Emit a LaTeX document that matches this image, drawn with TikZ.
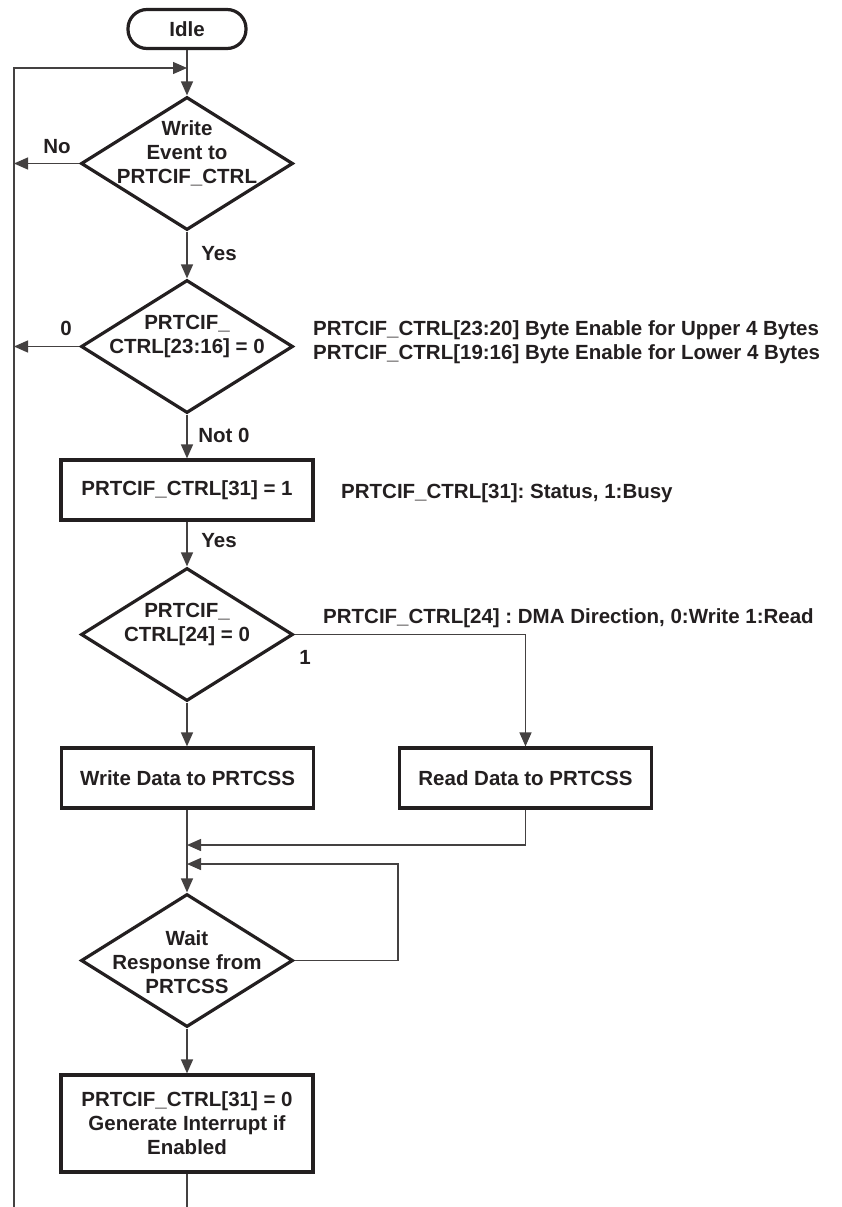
\documentclass[tikz,border=0pt]{standalone}
\usepackage{fontspec}
\setmainfont{Liberation Sans}
\usetikzlibrary{shapes.geometric,arrows.meta}
\definecolor{ink}{RGB}{35,31,32}
\frenchspacing
\begin{document}
\begin{tikzpicture}[x=1pt,y=1pt,yscale=-1,
    every node/.style={font=\fontsize{20.5}{24}\selectfont\bfseries,text=ink},
    term/.style={draw=ink,line width=3.2pt,rounded corners=19pt,minimum width=118pt,minimum height=39pt,inner sep=0pt},
    proc/.style={draw=ink,line width=3.2pt,minimum width=252pt,minimum height=60pt,inner sep=0pt,align=center},
    dec/.style={draw=ink,line width=3.2pt,diamond,minimum width=212pt,minimum height=133pt,inner sep=0pt},
    txt/.style={align=center,inner sep=0pt},
    lbl/.style={inner sep=0pt},
    flow/.style={draw=ink!85,line width=1.4pt},
    tip/.style={-{Triangle[length=14pt,width=12pt]}}]
        \useasboundingbox (0,0) rectangle (841,1207);

        %Shape: Terminal [id:idle]
        \node[term] (idle) at (187,29) {Idle};
        %Shape: Diamond [id:wev]
        \node[dec] (wev) at (187,163.5) {};
        \node[txt] (wevt) at (187,153) {Write\\Event to\\PRTCIF\_CTRL};
        %Shape: Diamond [id:wbe]
        \node[dec] (wbe) at (187,346.5) {};
        \node[txt] (wbet) at (187,336) {PRTCIF\_\\CTRL[23:16] = 0};
        %Shape: Rectangle [id:busy]
        \node[proc] (busy) at (187,490) {PRTCIF\_CTRL[31] = 1};
        %Shape: Diamond [id:dir]
        \node[dec] (dir) at (187,634.5) {};
        \node[txt] (dirt) at (187,624) {PRTCIF\_\\CTRL[24] = 0};
        %Shape: Rectangle [id:wr]
        \node[proc] (wr) at (187.5,778) {Write Data to PRTCSS};
        %Shape: Rectangle [id:rd]
        \node[proc] (rd) at (525.5,778) {Read Data to PRTCSS};
        %Shape: Diamond [id:wait]
        \node[dec] (wait) at (187,960.5) {};
        \node[txt] (waitt) at (187,962) {Wait\\Response from\\PRTCSS};
        %Shape: Rectangle [id:done]
        \node[proc,minimum height=97pt] (done) at (187,1123.5) {PRTCIF\_CTRL[31] = 0\\Generate Interrupt if\\Enabled};

        %Free ends
        \coordinate (lt) at (14,68);
        \coordinate (lb) at (14,1207);
        \coordinate (cb) at (187,1207);
        \coordinate (j1) at (187,68);
        \coordinate (m1) at (187,845);
        \coordinate (m2) at (187,864);
        \coordinate (lp) at (398,864);

        %Straight Lines
        \draw[flow,tip] (lb) -- (lt) -- (j1);
        \draw[flow,tip] (idle) -- (wev);
        \draw[flow,tip] (wev.west) -- (wev.west -| lt);
        \draw[flow,tip] (wev) -- (wbe);
        \draw[flow,tip] (wbe.west) -- (wbe.west -| lt);
        \draw[flow,tip] (wbe) -- (busy);
        \draw[flow,tip] (busy) -- (dir);
        \draw[flow,tip] (dir) -- (dir |- wr.north);
        \draw[flow,tip] (dir.east) -| (rd);
        \draw[flow,tip] (wr.south -| m1) -- (wait);
        \draw[flow,tip] (rd.south) |- (m1);
        \draw[flow,tip] (wait.east) -| (lp) -- (m2);
        \draw[flow,tip] (wait) -- (done);
        \draw[flow] (done) -- (cb);

        % Text Node
        \node[lbl] (lno) at (57,147) {No};
        % Text Node
        \node[lbl] (lyes) at (219,254) {Yes};
        % Text Node
        \node[lbl] (lzero) at (66,328) {0};
        % Text Node
        \node[lbl] (lnot) at (224,435) {Not 0};
        % Text Node
        \node[lbl] (lyes2) at (219,541) {Yes};
        % Text Node
        \node[lbl] (lone) at (305,657) {1};
        % Text Node
        \node[lbl,anchor=west,align=left] (nbe) at (313,342) {PRTCIF\_CTRL[23:20] Byte Enable for Upper 4 Bytes\\PRTCIF\_CTRL[19:16] Byte Enable for Lower 4 Bytes};
        % Text Node
        \node[lbl,anchor=west] (nst) at (341,493) {PRTCIF\_CTRL[31]: Status, 1:Busy};
        % Text Node
        \node[lbl,anchor=west] (ndir) at (323,618) {PRTCIF\_CTRL[24] : DMA Direction, 0:Write 1:Read};
\end{tikzpicture}
\end{document}
